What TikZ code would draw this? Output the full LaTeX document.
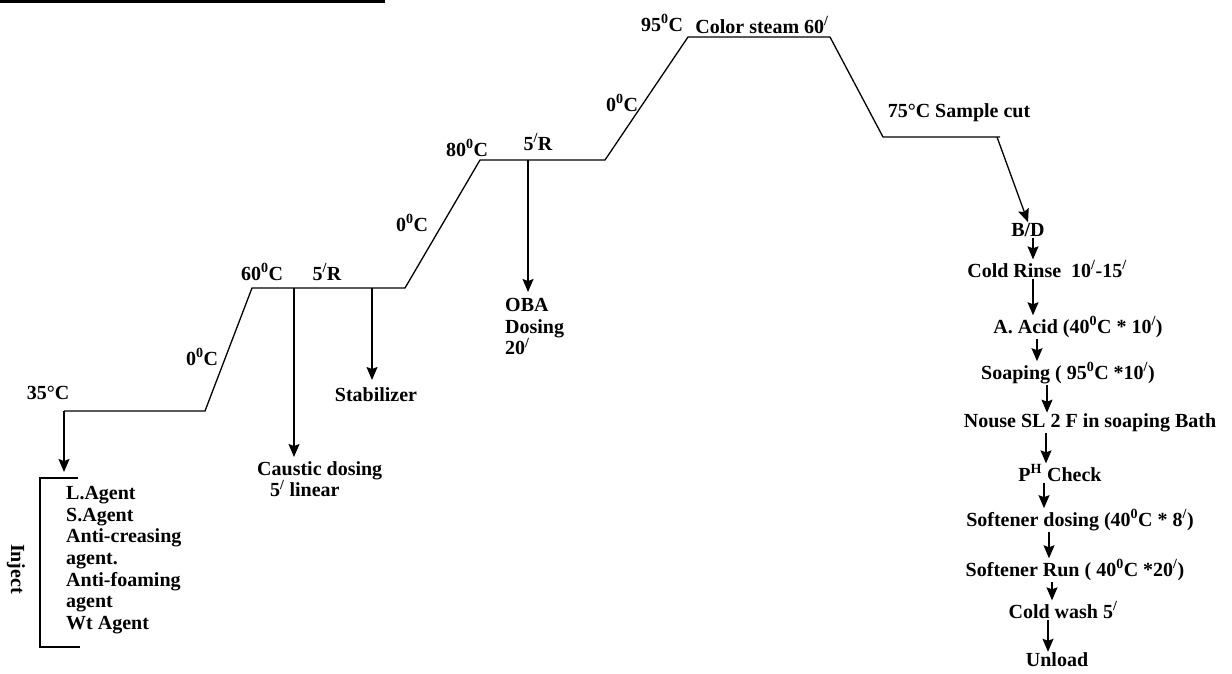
\documentclass[tikz,border=0pt]{standalone}
\usepackage{fontspec}
\setmainfont{Liberation Serif}
\usetikzlibrary{arrows.meta}
\newcommand{\degz}{\textsuperscript{0}C}
\newcommand{\mint}{\textsuperscript{/}}

\begin{document}
\begin{tikzpicture}[x=1pt, y=-1pt,
    lbl/.style={font=\fontsize{20}{21.7}\selectfont\bfseries, inner sep=1pt},
    profile/.style={line width=1.3pt, line join=miter},
    flow/.style={line width=1.3pt, -{Stealth[length=13pt,width=11pt,inset=2pt]}}]
  \useasboundingbox (0,0) rectangle (1232,673);
  \draw[line width=2.2pt] (0,1.5) -- (385,1.5);

  % temperature profile
  \coordinate (p0) at (64,411);
  \coordinate (p1) at (205,411);
  \coordinate (p2) at (252,288);
  \coordinate (p3) at (405,288);
  \coordinate (p4) at (480,160);
  \coordinate (p5) at (605,160);
  \coordinate (p6) at (688,37);
  \coordinate (p7) at (830,37);
  \coordinate (p8) at (883,137);
  \coordinate (p9) at (1000,137);
  \draw[profile] (p0) -- (p1) -- (p2) -- (p3) -- (p4) -- (p5) -- (p6) -- (p7) -- (p8) -- (p9);

  % labels on the profile
  \node[lbl] (t35) at (48,393) {35°C};
  \node[lbl] (r1) at (202,357) {0\degz};
  \node[lbl] (t60) at (262,272) {60\degz};
  \node[lbl] (h1) at (327,272) {5\mint R};
  \node[lbl] (r2) at (412,223) {0\degz};
  \node[lbl] (t80) at (467,148) {80\degz};
  \node[lbl] (h2) at (538,142) {5\mint R};
  \node[lbl] (r3) at (622,103) {0\degz};
  \node[lbl] (t95) at (662,23) {95\degz};
  \node[lbl] (steam) at (762,25) {Color steam 60\mint};
  \node[lbl] (t75) at (959,113) {75°C Sample cut};

  % dosing
  \node[lbl, anchor=north west, inner sep=0pt, align=left] (inject) at (66,486)
    {L.Agent\\S.Agent\\Anti-creasing\\agent.\\Anti-foaming\\agent\\Wt Agent};
  \node[lbl, rotate=-90] (injlbl) at (16,569) {Inject};
  \draw[line width=1.1pt] (78,478) -- (40,478) -- (40,647) -- (80,647);
  \coordinate (injtop) at (64,472);
  \draw[flow] (p0) -- (injtop);

  \node[lbl, anchor=north west, inner sep=0pt, align=left] (caustic) at (257,461)
    {Caustic dosing\\\hspace{13pt}5\mint{} linear};
  \node[lbl] (stab) at (376,395) {Stabilizer};
  \node[lbl, anchor=north west, inner sep=0pt, align=left] (oba) at (505,298)
    {OBA\\Dosing\\20\mint};
  \draw[flow] (294,288) -- (294,457);
  \draw[flow] (372,288) -- (372,380);
  \draw[flow] (528,160) -- (528,292);

  % after treatment
  \node[lbl] (bd) at (1028,230) {B/D};
  \node[lbl] (rinse) at (1047,269) {Cold Rinse\ \ 10\mint-15\mint};
  \node[lbl] (acid) at (1078,327) {A. Acid (40\degz{} * 10\mint)};
  \node[lbl] (soap) at (1068,373) {Soaping ( 95\degz{} *10\mint)};
  \node[lbl] (nouse) at (1090,423) {Nouse SL 2 F in soaping Bath};
  \node[lbl] (ph) at (1060,473) {P\textsuperscript{H} Check};
  \node[lbl] (soft) at (1080,520) {Softener dosing (40\degz{} * 8\mint)};
  \node[lbl] (run) at (1075,570) {Softener Run ( 40\degz{} *20\mint)};
  \node[lbl] (wash) at (1063,610) {Cold wash 5\mint};
  \node[lbl] (unload) at (1057,660) {Unload};

  \draw[flow] (997,137) -- (bd.north);
  \foreach \a/\b/\x in {bd/rinse/1033, rinse/acid/1033, acid/soap/1037,
      soap/nouse/1047, nouse/ph/1046, ph/soft/1044, soft/run/1049,
      run/wash/1052, wash/unload/1048}
    \draw[flow] (\x,0 |- \a.south) -- (\x,0 |- \b.north);
\end{tikzpicture}
\end{document}
